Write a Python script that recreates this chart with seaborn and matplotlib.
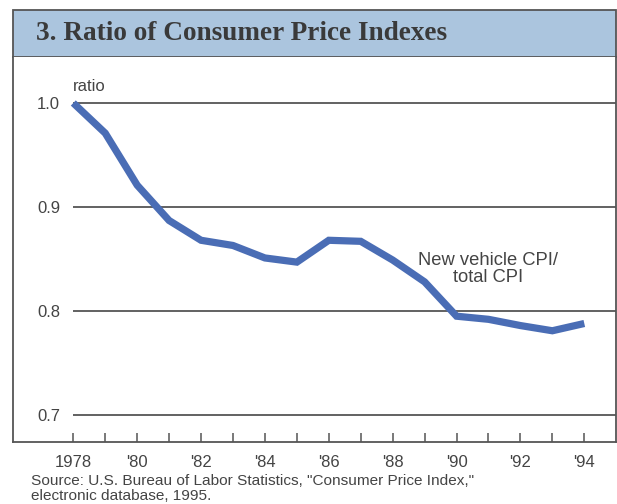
import matplotlib
matplotlib.use("Agg")
import matplotlib.pyplot as plt
import seaborn as sns
import pandas as pd
from matplotlib.patches import Rectangle

years = list(range(1978, 1995))
ratio = [1.000, 0.971, 0.921, 0.887, 0.868, 0.863, 0.851, 0.847, 0.868, 0.867,
         0.849, 0.828, 0.795, 0.792, 0.786, 0.781, 0.788]
ytick_vals = [0.7, 0.8, 0.9, 1.0]
ytick_labels = ["0.7", "0.8", "0.9", "1.0"]
xtick_vals = [1978, 1980, 1982, 1984, 1986, 1988, 1990, 1992, 1994]
xtick_labels = ["1978", "'80", "'82", "'84", "'86", "'88", "'90", "'92", "'94"]
title = "3. Ratio of Consumer Price Indexes"
source = 'Source: U.S. Bureau of Labor Statistics, "Consumer Price Index,"\nelectronic database, 1995.'

df = pd.DataFrame({"year": years, "ratio": ratio})

sns.set_theme(style="white")
plt.rcParams["font.family"] = ["Liberation Sans", "DejaVu Sans"]

W, H = 617, 504
fig = plt.figure(figsize=(W / 100, H / 100), dpi=100)
fig.patch.set_facecolor("white")

def fx(px):
    return px / W

def fy(py):
    return 1 - py / H

left, right, top, bottom = 13, 616, 57, 442
ax = fig.add_axes([fx(left), fy(bottom), fx(right) - fx(left), fy(top) - fy(bottom)])
ax.set_facecolor("white")

line_color = "#4a6db5"
sns.lineplot(data=df, x="year", y="ratio", ax=ax, color=line_color, linewidth=5.2,
             solid_joinstyle="miter", solid_capstyle="butt")

x0 = 1978 - (73.3 - left) / 31.94
x1 = 1994 + (right - 584.3) / 31.94
ax.set_xlim(x0, x1)
ppv = 1040.0
ax.set_ylim(0.7 - (bottom - 415) / ppv, 1.0 + (103 - top) / ppv)

grid_color = "#555555"
ax.hlines(ytick_vals, 1978, x1, colors=grid_color, linewidth=1.3, zorder=1)

ax.set_xlabel("")
ax.set_ylabel("")
ax.set_yticks(ytick_vals)
ax.set_yticklabels(ytick_labels)
ax.set_xticks(xtick_vals)
ax.set_xticklabels(xtick_labels)
ax.set_xticks(years, minor=True)
ax.tick_params(axis="y", length=0, pad=-34, labelsize=12, labelcolor="#444444")
ax.tick_params(axis="x", which="both", direction="in", length=6.5, width=1.1,
               color=grid_color, bottom=True, top=False)
ax.tick_params(axis="x", which="major", pad=9.5, labelsize=12, labelcolor="#444444")
for lab in ax.get_yticklabels():
    lab.set_horizontalalignment("right")

for s in ["left", "bottom", "right"]:
    ax.spines[s].set_visible(True)
    ax.spines[s].set_color(grid_color)
    ax.spines[s].set_linewidth(1.3)
ax.spines["top"].set_visible(False)

ax.text(1977.98, 1.0 + (103 - 87) / ppv, "ratio", ha="left", va="center",
        fontsize=12, color="#444444")
ax.text(1978 + (488 - 73.3) / 31.94, 1.0 - (269 - 103) / ppv, "New vehicle CPI/\ntotal CPI",
        ha="center", va="center", fontsize=13.2, color="#444444", linespacing=1.05)

# title band
band = Rectangle((fx(left), fy(top)), fx(right) - fx(left), fy(9.5) - fy(top),
                 transform=fig.transFigure, facecolor="#abc5de", edgecolor=grid_color,
                 linewidth=1.3, zorder=0)
fig.add_artist(band)
fig.text(fx(36), fy(34), title, ha="left", va="center", fontsize=19.6, fontweight="bold",
         family=["Liberation Serif", "DejaVu Serif"], color="#3a3a3a")

fig.text(fx(31), fy(488.5), source, ha="left", va="center", fontsize=11.05,
         color="#444444", linespacing=1.1)

fig.savefig("out.png", dpi=100, facecolor="white")
